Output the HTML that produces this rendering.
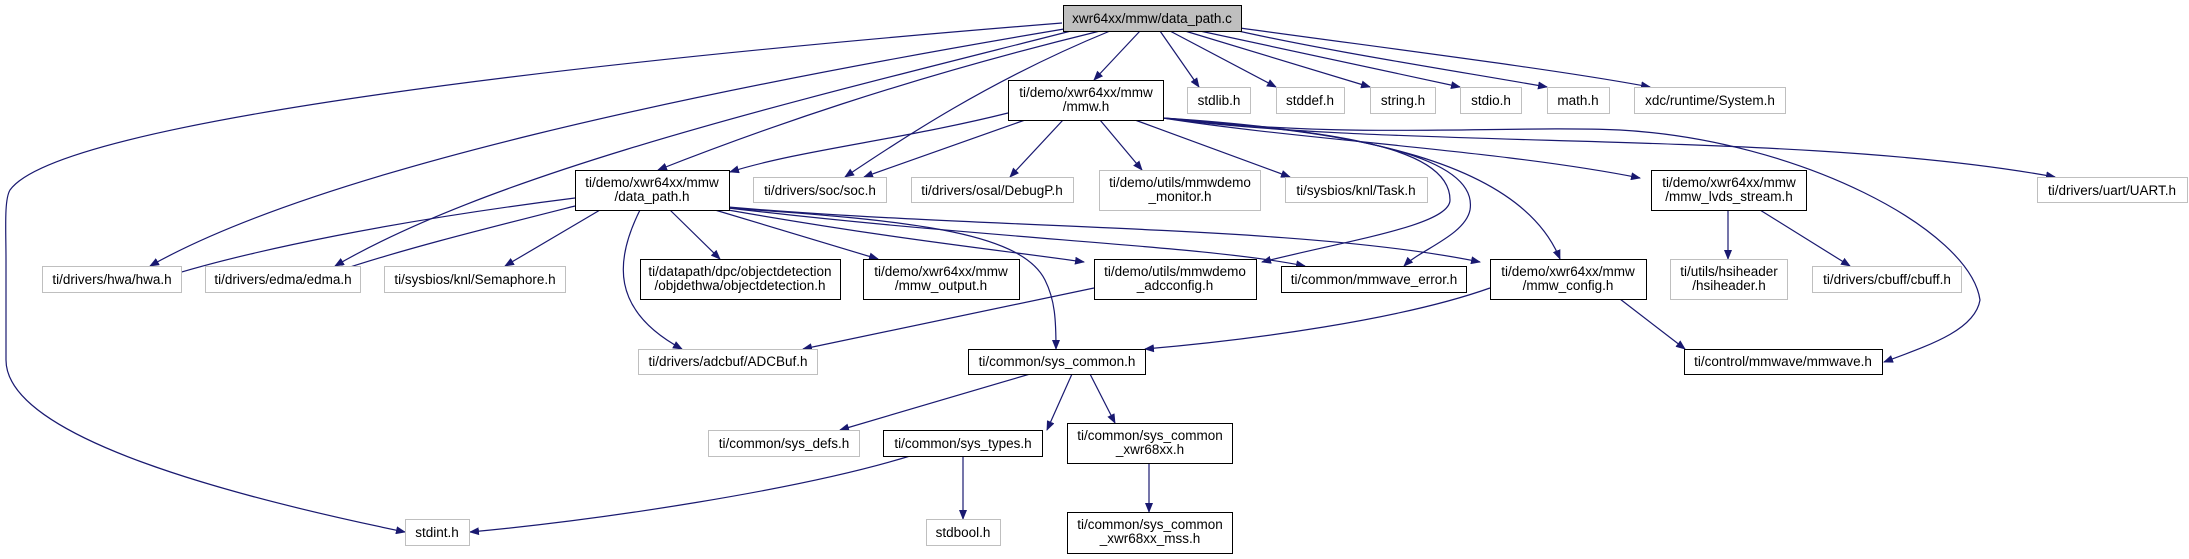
<!DOCTYPE html>
<html><head><meta charset="utf-8"><style>
html,body{margin:0;padding:0;background:#fff;width:2189px;height:559px;overflow:hidden}
svg text{font-family:"Liberation Sans",sans-serif;font-size:13.5px;fill:#000;text-anchor:middle}
</style></head><body>
<svg width="2189" height="559" viewBox="0 0 2189 559" xmlns="http://www.w3.org/2000/svg">
<defs><marker id="a" markerWidth="10" markerHeight="8" refX="9" refY="4" orient="auto" markerUnits="userSpaceOnUse"><path d="M0,0 L10,4 L0,8 z" fill="#191970"/></marker></defs>
<g fill="none" stroke="#191970" stroke-width="1.2" marker-end="url(#a)">
<!-- root edges -->
<path d="M1140,31 L1094,80"/>
<path d="M1160,31 L1199,87"/>
<path d="M1170,31 L1276,87"/>
<path d="M1185,31 L1370,87"/>
<path d="M1200,31 L1460,87"/>
<path d="M1225,28 C1320,50 1450,70 1547,87"/>
<path d="M1240,28 C1400,50 1560,70 1650,87"/>
<path d="M1100,31 C900,80 760,130 658,170"/>
<path d="M1110,31 C990,80 900,140 845,177"/>
<path d="M1070,28 C700,90 320,170 150,266"/>
<path d="M1075,30 C800,100 500,170 335,266"/>
<path d="M1062,23 C600,60 60,120 10,190 C4,200 6,230 6,260 L6,360 C6,440 250,500 405,532"/>
<!-- mmw.h edges -->
<path d="M1008,113 C900,140 800,150 730,172"/>
<path d="M1025,120 L864,177"/>
<path d="M1063,120 L1010,177"/>
<path d="M1100,120 L1142,170"/>
<path d="M1135,120 L1290,177"/>
<path d="M1163,118 C1300,140 1500,150 1640,178"/>
<path d="M1163,118 C1400,150 1800,130 2055,177"/>
<path d="M1163,118 C1300,130 1450,140 1450,200 C1450,225 1350,240 1262,262"/>
<path d="M1163,118 C1320,130 1480,150 1470,210 C1465,235 1420,250 1404,266"/>
<path d="M1163,118 C1350,130 1520,160 1560,259"/>
<path d="M1163,118 C1350,140 1500,125 1620,130 C1800,140 1970,230 1980,300 C1975,330 1930,345 1884,362"/>
<!-- data_path.h edges -->
<path d="M575,198 C400,220 250,250 162,278"/>
<path d="M575,206 C480,230 400,250 335,272"/>
<path d="M600,210 L505,266"/>
<path d="M670,210 L720,259"/>
<path d="M715,210 L878,259"/>
<path d="M728,210 C900,240 1000,250 1084,262"/>
<path d="M728,208 C1000,240 1200,245 1305,266"/>
<path d="M728,207 C1000,230 1300,225 1480,262"/>
<path d="M728,208 C900,220 1020,230 1045,280 C1055,300 1056,320 1056,349"/>
<path d="M640,210 C615,260 610,310 682,349"/>
<!-- others -->
<path d="M1094,288 L803,349"/>
<path d="M1490,288 C1400,320 1250,340 1145,349"/>
<path d="M1620,299 L1685,349"/>
<path d="M1728,210 L1728,259"/>
<path d="M1760,210 L1850,266"/>
<path d="M1030,374 L840,430"/>
<path d="M1072,374 L1047,430"/>
<path d="M1090,374 L1115,423"/>
<path d="M1149,463 L1149,512"/>
<path d="M910,456 C800,490 600,520 470,532"/>
<path d="M963,456 L963,519"/>
</g>
<g stroke-width="1">
<rect x="1063.5" y="5.5" width="178" height="26" fill="#bfbfbf" stroke="#000"/>
<g fill="#fff" stroke="#bfbfbf">
<rect x="1187.5" y="87.5" width="63" height="26"/>
<rect x="1276.5" y="87.5" width="68" height="26"/>
<rect x="1370.5" y="87.5" width="65" height="26"/>
<rect x="1460.5" y="87.5" width="61" height="26"/>
<rect x="1547.5" y="87.5" width="62" height="26"/>
<rect x="1634.5" y="87.5" width="151" height="26"/>
<rect x="753.5" y="177.5" width="133" height="25"/>
<rect x="911.5" y="177.5" width="162" height="25"/>
<rect x="1099.5" y="170.5" width="161" height="40"/>
<rect x="1285.5" y="177.5" width="142" height="25"/>
<rect x="2037.5" y="177.5" width="150" height="25"/>
<rect x="42.5" y="266.5" width="139" height="26"/>
<rect x="205.5" y="266.5" width="155" height="26"/>
<rect x="384.5" y="266.5" width="181" height="26"/>
<rect x="1670.5" y="259.5" width="117" height="40"/>
<rect x="1812.5" y="266.5" width="149" height="26"/>
<rect x="638.5" y="349.5" width="179" height="25"/>
<rect x="708.5" y="430.5" width="151" height="26"/>
<rect x="405.5" y="519.5" width="64" height="26"/>
<rect x="926.5" y="519.5" width="74" height="26"/>
</g>
<g fill="#fff" stroke="#000">
<rect x="1008.5" y="80.5" width="155" height="40"/>
<rect x="575.5" y="170.5" width="154" height="40"/>
<rect x="1651.5" y="170.5" width="155" height="40"/>
<rect x="640.5" y="259.5" width="200" height="40"/>
<rect x="863.5" y="259.5" width="156" height="40"/>
<rect x="1094.5" y="259.5" width="162" height="40"/>
<rect x="1281.5" y="266.5" width="185" height="26"/>
<rect x="1490.5" y="259.5" width="156" height="40"/>
<rect x="968.5" y="349.5" width="177" height="25"/>
<rect x="1684.5" y="349.5" width="198" height="25"/>
<rect x="883.5" y="430.5" width="159" height="26"/>
<rect x="1067.5" y="423.5" width="165" height="40"/>
<rect x="1067.5" y="512.5" width="165" height="41"/>
</g>
</g>
<g>
<text x="1152" y="23">xwr64xx/mmw/data_path.c</text>
<text x="1219" y="105">stdlib.h</text>
<text x="1310" y="105">stddef.h</text>
<text x="1403" y="105">string.h</text>
<text x="1491" y="105">stdio.h</text>
<text x="1578" y="105">math.h</text>
<text x="1710" y="105">xdc/runtime/System.h</text>
<text x="1086" y="97">ti/demo/xwr64xx/mmw</text><text x="1086" y="111">/mmw.h</text>
<text x="820" y="195">ti/drivers/soc/soc.h</text>
<text x="992" y="195">ti/drivers/osal/DebugP.h</text>
<text x="1180" y="187">ti/demo/utils/mmwdemo</text><text x="1180" y="201">_monitor.h</text>
<text x="1356" y="195">ti/sysbios/knl/Task.h</text>
<text x="2112" y="195">ti/drivers/uart/UART.h</text>
<text x="652" y="187">ti/demo/xwr64xx/mmw</text><text x="652" y="201">/data_path.h</text>
<text x="1729" y="187">ti/demo/xwr64xx/mmw</text><text x="1729" y="201">/mmw_lvds_stream.h</text>
<text x="112" y="284">ti/drivers/hwa/hwa.h</text>
<text x="283" y="284">ti/drivers/edma/edma.h</text>
<text x="475" y="284">ti/sysbios/knl/Semaphore.h</text>
<text x="740" y="276">ti/datapath/dpc/objectdetection</text><text x="740" y="290">/objdethwa/objectdetection.h</text>
<text x="941" y="276">ti/demo/xwr64xx/mmw</text><text x="941" y="290">/mmw_output.h</text>
<text x="1175" y="276">ti/demo/utils/mmwdemo</text><text x="1175" y="290">_adcconfig.h</text>
<text x="1374" y="284">ti/common/mmwave_error.h</text>
<text x="1568" y="276">ti/demo/xwr64xx/mmw</text><text x="1568" y="290">/mmw_config.h</text>
<text x="1729" y="276">ti/utils/hsiheader</text><text x="1729" y="290">/hsiheader.h</text>
<text x="1887" y="284">ti/drivers/cbuff/cbuff.h</text>
<text x="728" y="366">ti/drivers/adcbuf/ADCBuf.h</text>
<text x="1057" y="366">ti/common/sys_common.h</text>
<text x="1783" y="366">ti/control/mmwave/mmwave.h</text>
<text x="784" y="448">ti/common/sys_defs.h</text>
<text x="963" y="448">ti/common/sys_types.h</text>
<text x="1150" y="440">ti/common/sys_common</text><text x="1150" y="454">_xwr68xx.h</text>
<text x="1150" y="529">ti/common/sys_common</text><text x="1150" y="543">_xwr68xx_mss.h</text>
<text x="437" y="537">stdint.h</text>
<text x="963" y="537">stdbool.h</text>
</g>
</svg>
</body></html>
